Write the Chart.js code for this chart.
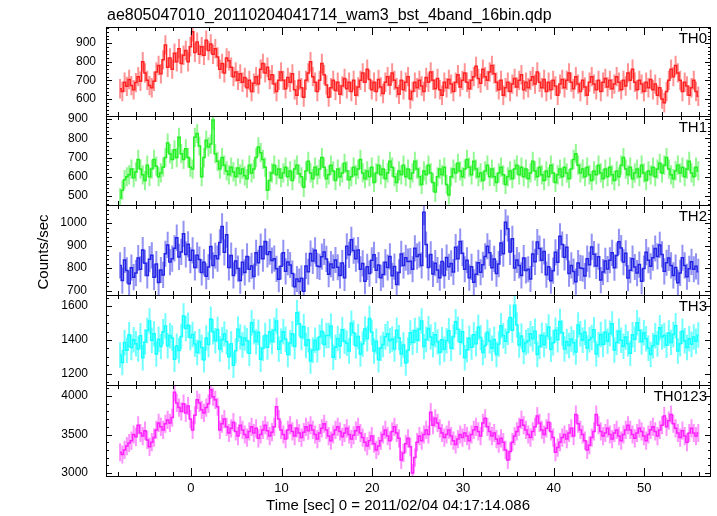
<!DOCTYPE html>
<html>
<head>
<meta charset="utf-8">
<script src="https://cdn.jsdelivr.net/npm/chart.js@4.4.1/dist/chart.umd.min.js"></script>
<style>
  body { margin: 0; background: #fff; width: 717px; height: 516px; overflow: hidden; position: relative; }
  canvas { position: absolute; left: 0; top: 0; }
</style>
</head>
<body>
<canvas id="p0" width="717" height="516"></canvas>
<canvas id="p1" width="717" height="516"></canvas>
<canvas id="p2" width="717" height="516"></canvas>
<canvas id="p3" width="717" height="516"></canvas>
<canvas id="p4" width="717" height="516"></canvas>
<script>
// time bins: start of series and bin width (sec)
const T0 = -7.8;
const DT = 0.25;

// count rates, 4 values per second
const th0 = [
  655,640,690,668, 705,672,650,688, 720,695,800,740, 700,672,660,695,
  745,780,735,810, 890,770,820,760, 845,800,870,790, 835,860,800,880,
  960,850,905,840, 880,835,915,860, 895,840,870,825, 760,790,740,820,
  805,770,720,745, 700,735,690,715, 660,700,640,685, 720,680,760,790,
  740,770,705,730, 680,640,700,745, 700,655,715,690, 735,650,620,700,
  660,610,700,740, 800,720,690,640, 700,790,730,675, 610,660,700,645,
  690,625,670,710, 655,690,640,700, 620,665,700,740, 690,760,705,650,
  690,640,705,665, 630,690,720,675, 740,700,660,625, 700,650,690,720,
  600,640,690,660, 700,670,640,715, 690,745,700,655, 710,650,620,690,
  660,705,680,640, 690,730,665,700, 740,690,655,700, 720,775,710,685,
  760,720,700,745, 780,735,690,650, 700,620,660,690, 640,680,710,665,
  700,730,650,690, 660,700,720,680, 745,690,660,705, 640,690,650,700,
  670,620,680,705, 660,700,740,690, 655,720,680,640, 700,665,620,690,
  720,680,650,700, 640,690,710,665, 700,655,680,720, 690,650,700,670,
  740,700,760,690, 650,700,680,640, 690,660,705,650, 680,620,660,600,
  580,640,700,760, 720,780,740,700, 640,690,670,620, 660,700,640,615
];
const th1 = [
  490,530,585,600, 610,640,595,625, 690,640,610,580, 660,600,640,690,
  655,600,620,650, 700,775,720,690, 740,700,805,720, 690,745,700,650,
  640,805,825,760, 600,700,790,755, 770,895,720,680, 640,700,660,630,
  610,650,625,600, 645,615,640,605, 590,660,620,640, 700,755,725,690,
  650,530,580,620, 660,610,640,595, 620,650,600,630, 580,640,660,615,
  600,545,630,680, 620,590,650,610, 640,700,650,590, 610,660,630,580,
  640,600,620,670, 630,585,600,650, 610,640,690,620, 590,630,600,650,
  570,620,660,610, 640,590,620,680, 650,600,570,630, 610,660,600,640,
  590,620,680,640, 600,560,630,610, 660,620,570,520, 600,640,610,650,
  560,505,600,640, 620,670,630,600, 640,690,650,610, 680,640,600,620,
  580,630,660,600, 640,600,570,620, 650,610,560,600, 630,590,640,660,
  610,650,600,640, 590,620,680,630, 600,650,610,580, 630,600,660,620,
  570,610,640,600, 650,620,590,640, 690,720,660,620, 640,600,650,610,
  580,630,610,660, 620,590,640,600, 650,610,580,630, 600,660,700,640,
  610,650,590,620, 640,600,660,620, 580,630,610,650, 600,640,670,620,
  660,700,640,610, 590,630,660,620, 650,600,640,680, 620,600,650,630
];
const th2 = [
  812,745,836,790, 731,802,760,778, 845,795,880,822, 768,840,857,760,
  818,736,792,770, 864,903,827,842, 888,935,850,872, 952,861,906,835,
  879,803,857,838, 781,826,764,805, 896,812,855,842, 914,985,870,948,
  803,856,768,832, 798,745,826,781, 852,795,810,763, 868,824,896,842,
  918,861,873,834, 842,797,751,808, 868,786,827,814, 776,718,752,741,
  755,698,810,784, 865,832,879,810, 806,851,872,841, 773,818,802,836,
  804,768,823,757, 897,859,926,878, 842,880,795,821, 742,806,776,835,
  859,791,814,757, 772,826,803,852, 766,807,728,781, 863,812,846,829,
  831,795,888,852, 860,812,1048,905, 803,861,774,822, 792,758,830,768,
  847,806,821,783, 893,842,918,866, 795,835,758,806, 737,773,824,782,
  815,852,897,868, 802,841,776,818, 912,864,1003,975, 872,930,801,836,
  812,768,845,790, 795,752,863,828, 916,887,835,874, 771,806,744,789,
  870,826,941,905, 848,893,776,812, 785,740,823,801, 798,765,842,815,
  894,862,810,851, 747,783,832,796, 835,868,802,856, 917,889,827,866,
  756,791,842,805, 778,816,742,798, 871,835,808,846, 887,852,903,861,
  786,824,845,812, 768,803,735,779, 846,812,762,797, 828,795,808,784
];
const th3 = [
  1312,1268,1385,1340, 1431,1356,1402,1378, 1347,1425,1296,1388, 1456,1512,1398,1437,
  1318,1405,1362,1449, 1483,1366,1425,1412, 1287,1364,1338,1421, 1542,1468,1487,1415,
  1432,1376,1327,1391, 1356,1284,1412,1373, 1523,1448,1396,1462, 1347,1401,1436,1389,
  1302,1378,1251,1336, 1463,1418,1370,1412, 1395,1322,1502,1448, 1389,1446,1287,1352,
  1426,1358,1448,1391, 1457,1512,1346,1393, 1448,1405,1314,1382, 1437,1362,1561,1495,
  1415,1478,1368,1402, 1276,1339,1398,1343, 1417,1452,1374,1426, 1426,1483,1298,1357,
  1409,1364,1461,1392, 1381,1335,1498,1442, 1366,1421,1318,1377, 1465,1408,1527,1446,
  1335,1392,1284,1352, 1374,1419,1437,1396, 1406,1347,1458,1413, 1318,1370,1265,1339,
  1442,1386,1456,1398, 1464,1512,1361,1403, 1467,1418,1372,1431, 1389,1326,1402,1345,
  1396,1455,1352,1417, 1508,1463,1387,1449, 1296,1343,1411,1358, 1431,1378,1475,1414,
  1327,1368,1446,1394, 1352,1403,1315,1376, 1484,1425,1392,1446, 1532,1458,1605,1488,
  1371,1424,1332,1385, 1396,1437,1408,1452, 1314,1361,1428,1372, 1423,1476,1345,1384,
  1458,1401,1509,1442, 1347,1391,1368,1406, 1384,1329,1489,1437, 1398,1446,1353,1402,
  1415,1461,1318,1372, 1433,1374,1447,1392, 1438,1495,1341,1385, 1452,1398,1363,1417,
  1378,1322,1431,1404, 1501,1457,1389,1443, 1408,1352,1314,1366, 1425,1376,1472,1418,
  1427,1369,1441,1386, 1432,1484,1335,1378, 1451,1396,1356,1407, 1375,1418,1392,1429
];
const th0123 = [
  3270,3240,3300,3350, 3390,3420,3500,3470, 3620,3520,3480,3550, 3430,3340,3400,3460,
  3560,3650,3600,3560, 3640,3690,3650,3720, 4050,3910,3850,3800, 3900,3780,3870,3700,
  3560,3750,3950,3910, 3820,3780,3850,3900, 4080,3990,3950,3860, 3560,3640,3700,3600,
  3520,3580,3660,3540, 3480,3620,3560,3500, 3460,3540,3600,3520, 3580,3450,3500,3560,
  3620,3550,3480,3530, 3600,3860,3700,3560, 3500,3440,3560,3620, 3540,3480,3580,3520,
  3460,3530,3600,3550, 3620,3560,3500,3440, 3520,3580,3640,3560, 3480,3420,3500,3560,
  3600,3540,3470,3520, 3580,3500,3440,3490, 3550,3600,3520,3460, 3400,3350,3420,3480,
  3380,3300,3350,3420, 3500,3560,3480,3420, 3540,3600,3520,3450, 3170,3260,3380,3450,
  3340,3000,3200,3400, 3480,3420,3500,3560, 3500,3790,3620,3710, 3650,3580,3520,3460,
  3500,3560,3480,3420, 3370,3440,3500,3460, 3520,3480,3420,3500, 3560,3600,3540,3480,
  3650,3710,3600,3540, 3480,3520,3440,3380, 3450,3400,3300,3170, 3280,3400,3480,3540,
  3600,3690,3620,3560, 3500,3460,3540,3600, 3740,3650,3560,3500, 3580,3660,3540,3460,
  3270,3330,3400,3460, 3500,3440,3520,3580, 3480,3760,3640,3560, 3500,3420,3300,3360,
  3460,3540,3760,3620, 3540,3480,3520,3580, 3500,3440,3520,3560, 3480,3420,3500,3560,
  3620,3560,3500,3450, 3520,3580,3540,3480, 3420,3500,3560,3600, 3540,3480,3560,3620,
  3740,3600,3680,3760, 3640,3580,3520,3460, 3550,3480,3400,3520, 3580,3520,3480,3520
];

const series = [th0, th1, th2, th3, th0123];
const names = ['TH0', 'TH1', 'TH2', 'TH3', 'TH0123'];
const errs = [52, 50, 58, 75, 118];            // typical half length of the error bars
const yMins = [509, 453, 681, 1135, 2961];
const yMaxs = [986, 916, 1080, 1665, 4143];
const yMajors = [100, 100, 100, 200, 500];
const yMinors = [20, 20, 20, 50, 100];
const xMin = -9.35, xMax = 57.35;

// layout (pixels)
const tops = [27, 116, 205, 295, 385, 476];
const labelRight = [96, 88, 87, 88, 88];
const plotLeft = 106, plotRight = 711;
const lineColors = ['#ff2222', '#22f022', '#2424e6', '#14ffff', '#ff22ff'];
const barColors = ['rgba(255,40,40,0.5)', 'rgba(40,240,40,0.5)', 'rgba(40,40,232,0.5)', 'rgba(20,255,255,0.6)', 'rgba(255,40,255,0.5)'];
const FONT = '"Liberation Sans", Helvetica, Arial, sans-serif';

// error bars under the line
const errorBars = {
  id: 'errorBars',
  beforeDatasetsDraw(chart) {
    const i = chart.options.panel;
    const { ctx, chartArea: a, scales: { x, y } } = chart;
    ctx.save();
    ctx.beginPath();
    ctx.rect(a.left, a.top, a.right - a.left, a.bottom - a.top);
    ctx.clip();
    ctx.strokeStyle = barColors[i];
    ctx.lineWidth = 2;
    ctx.beginPath();
    series[i].forEach((v, k) => {
      const px = x.getPixelForValue(T0 + k * DT);
      ctx.moveTo(px, y.getPixelForValue(v - errs[i]));
      ctx.lineTo(px, y.getPixelForValue(v + errs[i]));
    });
    ctx.stroke();
    ctx.restore();
  }
};

// qdp style frame, inward ticks, labels
const qdpFrame = {
  id: 'qdpFrame',
  afterDraw(chart) {
    const i = chart.options.panel;
    const { ctx, chartArea: a, scales: { x, y } } = chart;
    ctx.save();
    ctx.strokeStyle = '#000';
    ctx.fillStyle = '#000';
    ctx.lineWidth = 1;
    ctx.strokeRect(a.left + 0.5, a.top + 0.5, a.right - a.left - 1, a.bottom - a.top);

    ctx.beginPath();
    // x ticks, top and bottom
    for (let t = -10; t <= 60; t += 2) {
      if (t < xMin || t > xMax) continue;
      const px = Math.round(x.getPixelForValue(t)) + 0.5;
      const len = t % 10 === 0 ? 8 : 4;
      ctx.moveTo(px, a.bottom); ctx.lineTo(px, a.bottom - len);
      ctx.moveTo(px, a.top); ctx.lineTo(px, a.top + len);
    }
    // y ticks, left and right
    const start = Math.ceil(yMins[i] / yMinors[i]) * yMinors[i];
    for (let v = start; v <= yMaxs[i]; v += yMinors[i]) {
      const py = Math.round(y.getPixelForValue(v)) + 0.5;
      const len = v % yMajors[i] === 0 ? 6 : 3;
      ctx.moveTo(a.left, py); ctx.lineTo(a.left + len, py);
      ctx.moveTo(a.right, py); ctx.lineTo(a.right - len, py);
    }
    ctx.stroke();

    // y tick labels
    ctx.font = '12px ' + FONT;
    ctx.textAlign = 'right';
    ctx.textBaseline = 'middle';
    const s2 = Math.ceil(yMins[i] / yMajors[i]) * yMajors[i];
    for (let v = s2; v <= yMaxs[i]; v += yMajors[i]) {
      ctx.fillText(String(v), labelRight[i], y.getPixelForValue(v));
    }

    // panel name
    ctx.font = '15px ' + FONT;
    ctx.textBaseline = 'alphabetic';
    ctx.fillText(names[i], a.right - 4, a.top + 16);

    if (i === 0) {
      ctx.font = '16px ' + FONT;
      ctx.textAlign = 'left';
      ctx.fillText('ae805047010_20110204041714_wam3_bst_4band_16bin.qdp', 107, 20);
    }
    if (i === series.length - 1) {
      ctx.font = '13px ' + FONT;
      ctx.textAlign = 'center';
      for (let t = -10; t <= 60; t += 10) {
        if (t < xMin || t > xMax) continue;
        ctx.fillText(String(t), x.getPixelForValue(t), 492);
      }
      ctx.font = '15px ' + FONT;
      ctx.fillText('Time [sec] 0 = 2011/02/04 04:17:14.086', 398, 510);
      ctx.translate(48, 252);
      ctx.rotate(-Math.PI / 2);
      ctx.fillText('Counts/sec', 0, 0);
    }
    ctx.restore();
  }
};

series.forEach((vals, i) => {
  const ctx = document.getElementById('p' + i).getContext('2d');
  new Chart(ctx, {
    type: 'line',
    data: {
      datasets: [{
        data: vals.map((v, k) => ({ x: T0 + k * DT, y: v })),
        borderColor: lineColors[i],
        borderWidth: 1.5,
        pointRadius: 0,
        stepped: 'middle',
        fill: false
      }]
    },
    options: {
      panel: i,
      responsive: false,
      animation: false,
      events: [],
      layout: { padding: { left: plotLeft, right: 717 - plotRight, top: tops[i], bottom: 516 - tops[i + 1] } },
      scales: {
        x: { type: 'linear', min: xMin, max: xMax, display: false },
        y: { type: 'linear', min: yMins[i], max: yMaxs[i], display: false }
      },
      plugins: { legend: { display: false }, tooltip: { enabled: false } }
    },
    plugins: [errorBars, qdpFrame]
  });
});
</script>
</body>
</html>
